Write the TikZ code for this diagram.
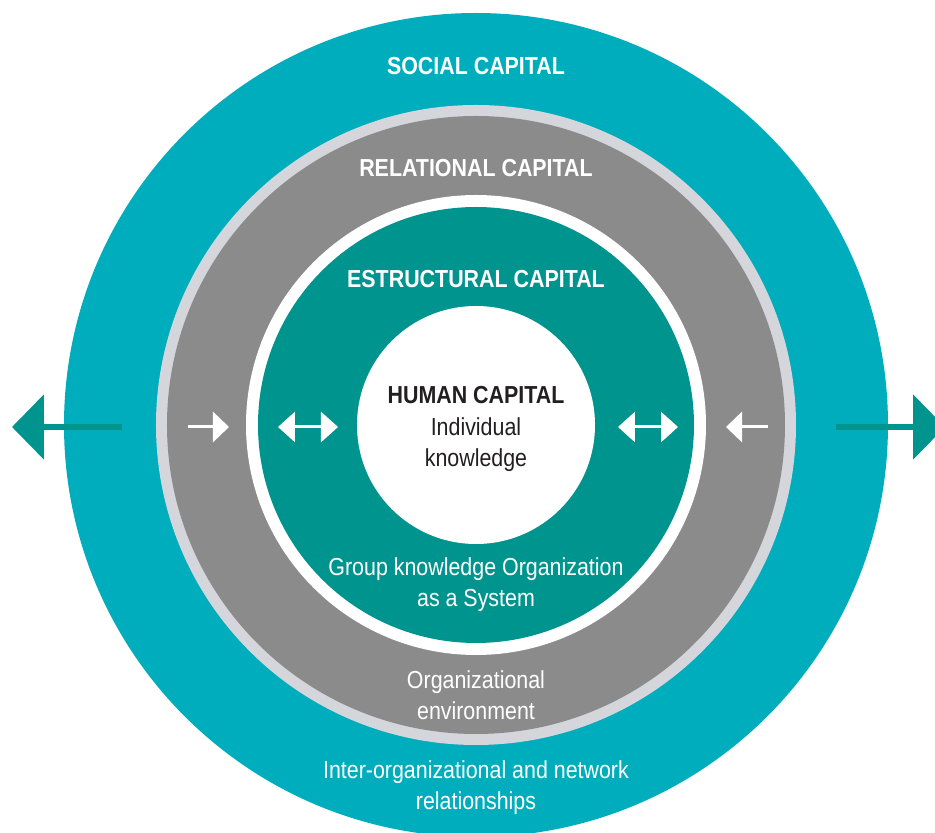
\documentclass[tikz,border=0pt]{standalone}
\usepackage{fontspec}
\setmainfont{Liberation Sans}[FakeStretch=0.87]
\usetikzlibrary{arrows.meta}
\definecolor{socialteal}{HTML}{00ADBD}
\definecolor{structteal}{HTML}{00948F}
\definecolor{relgray}{HTML}{8B8B8B}
\definecolor{rimgray}{HTML}{D5D6DB}
\definecolor{humantext}{HTML}{231F20}
\tikzset{
	ringlabel/.style={text=white, font=\fontsize{14}{18.2}\selectfont, align=center, anchor=base, inner sep=0pt},
	ringtitle/.style={ringlabel, font=\fontsize{14}{18.2}\selectfont\bfseries},
	bigarrow/.style={line width=0.12cm, color=structteal, -{Triangle[length=0.64cm,width=1.28cm]}},
	smallarrow/.style={line width=0.06cm, color=white, -{Triangle[length=0.32cm,width=0.6cm]}},
	twoarrow/.style={line width=0.06cm, color=white, {Triangle[length=0.34cm,width=0.6cm]}-{Triangle[length=0.34cm,width=0.6cm]}}
}

\begin{document}
\begin{tikzpicture}
			%%%%% START %%%%%
			\useasboundingbox (-9.52, -8.16) rectangle (9.18, 8.5);
			
			% rings, outside in
			\fill[socialteal] (0, 0) circle (8.24);
			\fill[rimgray] (0, 0) circle (6.4);
			\fill[relgray] (0, 0) circle (6.18);
			\fill[white] (0, 0) circle (4.6);
			\fill[structteal] (0, 0) circle (4.36);
			\fill[white] (0, 0) circle (2.38);
			
			% arrows
			\coordinate (socialL) at (-7.08, -0.04);
			\coordinate (socialLtip) at (-9.28, -0.04);
			\coordinate (socialR) at (7.2, -0.04);
			\coordinate (socialRtip) at (9.38, -0.04);
			\draw[bigarrow] (socialL) -- (socialLtip);
			\draw[bigarrow] (socialR) -- (socialRtip);
			
			\coordinate (relL) at (-5.76, -0.04);
			\coordinate (relLtip) at (-4.94, -0.04);
			\coordinate (relR) at (5.84, -0.04);
			\coordinate (relRtip) at (5.0, -0.04);
			\draw[smallarrow] (relL) -- (relLtip);
			\draw[smallarrow] (relR) -- (relRtip);
			
			\coordinate (structLa) at (-3.96, -0.04);
			\coordinate (structLb) at (-2.76, -0.04);
			\coordinate (structRa) at (2.84, -0.04);
			\coordinate (structRb) at (4.04, -0.04);
			\draw[twoarrow] (structLa) -- (structLb);
			\draw[twoarrow] (structRa) -- (structRb);
			
			% labels (multi-line ones sit on their last line)
			\node[ringtitle] (social) at (0, 7.0) {SOCIAL CAPITAL};
			\node[ringtitle] (relational) at (0, 4.96) {RELATIONAL CAPITAL};
			\node[ringtitle] (structural) at (0, 2.74) {ESTRUCTURAL CAPITAL};
			\node[ringtitle, text=humantext] (human) at (0, 0.42) {HUMAN CAPITAL};
			\node[ringlabel, text=humantext] (individual) at (0, -0.84) {Individual\\knowledge};
			\node[ringlabel] (group) at (0, -3.64) {Group knowledge Organization\\as a System};
			\node[ringlabel] (environment) at (0, -5.9) {Organizational\\environment};
			\node[ringlabel] (network) at (0, -7.7) {Inter-organizational and network\\relationships};
			
			%%%%% END %%%%%
\end{tikzpicture}
\end{document}
